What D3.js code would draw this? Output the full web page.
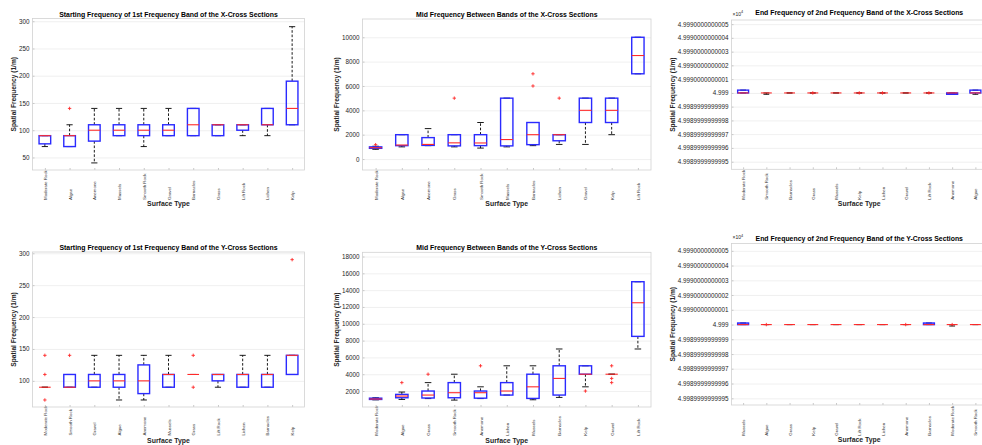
<!DOCTYPE html>
<html><head><meta charset="utf-8">
<script src="https://cdn.jsdelivr.net/npm/d3@7"></script>
<style>
body{margin:0;background:#fff}
svg{display:block}
text{font-family:"Liberation Sans",Arial,Helvetica,sans-serif}
</style>
</head><body><svg id="c" width="982" height="445"></svg>
<script>
// ===== Panel 1: Starting Frequency, X-Cross =====
const p1Title = "Starting Frequency of 1st Frequency Band of the X-Cross Sections";
const p1Categories = ["Moderate Rock","Algae","Anemone","Mussels","Smooth Rock","Gravel","Barnacles","Grass","Lift Rock","Lichen","Kelp"];
const p1Q1     = [75, 70, 80, 90, 90, 90, 90, 90,100,110,110];
const p1Median = [90, 90,100,100,100,100,110,110,110,110,140];
const p1Q3     = [90, 90,110,110,110,110,140,110,110,140,190];
const p1Low    = [70, 70, 40, 90, 70, 90, 90, 90, 90, 90,110];
const p1High   = [90,110,140,140,140,140,140,110,110,140,290];
const p1Outliers = [[],[140],[],[],[],[],[],[],[],[],[]];
const p1YDomain = [27, 305];
const p1YTicks = [50,100,150,200,250,300];
const p1YTickLabels = ["50","100","150","200","250","300"];

// ===== Panel 2: Mid Frequency, X-Cross =====
const p2Title = "Mid Frequency Between Bands of the X-Cross Sections";
const p2Categories = ["Moderate Rock","Algae","Anemone","Grass","Smooth Rock","Mussels","Barnacles","Lichen","Gravel","Kelp","Lift Rock"];
const p2Q1     = [ 880,1100,1120,1080,1100,1080,1180,1500,3000,3000, 7000];
const p2Median = [ 930,1150,1200,1330,1320,1600,2000,2000,4000,4000, 8500];
const p2Q3     = [1000,2000,1760,2000,2000,5000,3000,2000,5000,5000,10000];
const p2Low    = [ 800,1000,1100,1000, 900,1000,1100,1200,1200,2000, 7000];
const p2High   = [1050,2000,2500,2000,3000,5000,3000,2000,5000,5000,10000];
const p2Outliers = [[1180],[],[],[5000],[],[],[6000,7000],[5000],[],[],[]];
const p2YDomain = [-900, 11500];
const p2YTicks = [0,2000,4000,6000,8000,10000];
const p2YTickLabels = ["0","2000","4000","6000","8000","10000"];

// ===== Panel 3: End Frequency, X-Cross (values in units of 10^4) =====
const p3Title = "End Frequency of 2nd Frequency Band of the X-Cross Sections";
const p3Categories = ["Moderate Rock","Smooth Rock","Barnacles","Grass","Mussels","Kelp","Lichen","Gravel","Lift Rock","Anemone","Algae"];
const p3Q1     = [4.999,4.999,4.999,4.999,4.999,4.999,4.999,4.999,4.999,4.99899999999999,4.999];
const p3Median = [4.999,4.999,4.999,4.999,4.999,4.999,4.999,4.999,4.999,4.999,4.999];
const p3Q3     = [4.99900000000002,4.999,4.999,4.999,4.999,4.999,4.999,4.999,4.999,4.999,4.99900000000002];
const p3Low    = [4.999,4.99899999999999,4.999,4.999,4.999,4.999,4.999,4.999,4.999,4.99899999999999,4.99899999999999];
const p3High   = [4.99900000000002,4.999,4.999,4.999,4.999,4.999,4.999,4.999,4.999,4.999,4.99900000000002];
const p3Outliers = [[],[],[],[4.999],[],[4.999],[4.999],[],[4.999],[],[]];
const p3YDomain = [4.999 - 5.55e-13, 4.999 + 5.3e-13];
const p3YTicks = [4.9989999999995,4.9989999999996,4.9989999999997,4.9989999999998,4.9989999999999,4.999,4.9990000000001,4.9990000000002,4.9990000000003,4.9990000000004,4.9990000000005];
const p3YTickLabels = ["4.9989999999995","4.9989999999996","4.9989999999997","4.9989999999998","4.9989999999999","4.999","4.9990000000001","4.9990000000002","4.9990000000003","4.9990000000004","4.9990000000005"];

// ===== Panel 4: Starting Frequency, Y-Cross =====
const p4Title = "Starting Frequency of 1st Frequency Band of the Y-Cross Sections";
const p4Categories = ["Moderate Rock","Smooth Rock","Gravel","Algae","Anemone","Mussels","Grass","Lift Rock","Lichen","Barnacles","Kelp"];
const p4Q1     = [90, 90, 90, 90, 80, 90,110,100, 90, 90,110];
const p4Median = [90, 90,100,100,100,110,110,110,110,110,140];
const p4Q3     = [90,110,110,110,125,110,110,110,110,110,140];
const p4Low    = [90, 90, 90, 70, 70, 90,110, 90, 90, 90,110];
const p4High   = [90,110,140,140,140,140,110,110,140,140,140];
const p4Outliers = [[140,110,70],[140],[],[],[],[],[140,90],[],[],[],[290]];
const p4YDomain = [59, 302];
const p4YTicks = [100,150,200,250,300];
const p4YTickLabels = ["100","150","200","250","300"];

// ===== Panel 5: Mid Frequency, Y-Cross =====
const p5Title = "Mid Frequency Between Bands of the Y-Cross Sections";
const p5Categories = ["Moderate Rock","Algae","Grass","Smooth Rock","Anemone","Lichen","Mussels","Barnacles","Kelp","Gravel","Lift Rock"];
const p5Q1     = [1000,1200,1170,1200,1150,1520,1120,1520,4000,4000, 8500];
const p5Median = [1050,1400,1520,1800,1800,2000,2500,3500,4000,4000,12500];
const p5Q3     = [1150,1600,2000,3000,2000,3000,4000,5000,5000,4000,15000];
const p5Low    = [ 950,1000,1100, 920,1100,1520, 960,1240,2500,4000, 7000];
const p5High   = [1200,1880,3000,4000,2500,5000,5000,7000,5000,4000,15000];
const p5Outliers = [[],[3000],[4000],[],[5000],[],[],[],[2000],[5000,3500,3000],[]];
const p5YDomain = [100, 18500];
const p5YTicks = [2000,4000,6000,8000,10000,12000,14000,16000,18000];
const p5YTickLabels = ["2000","4000","6000","8000","10000","12000","14000","16000","18000"];

// ===== Panel 6: End Frequency, Y-Cross (values in units of 10^4) =====
const p6Title = "End Frequency of 2nd Frequency Band of the Y-Cross Sections";
const p6Categories = ["Mussels","Algae","Grass","Kelp","Gravel","Lift Rock","Lichen","Anemone","Barnacles","Moderate Rock","Smooth Rock"];
const p6Q1     = [4.999,4.999,4.999,4.999,4.999,4.999,4.999,4.999,4.999,4.999,4.999];
const p6Median = [4.999,4.999,4.999,4.999,4.999,4.999,4.999,4.999,4.999,4.999,4.999];
const p6Q3     = [4.99900000000001,4.999,4.999,4.999,4.999,4.999,4.999,4.999,4.99900000000001,4.999,4.999];
const p6Low    = [4.999,4.999,4.999,4.999,4.999,4.999,4.999,4.999,4.999,4.99899999999999,4.999];
const p6High   = [4.99900000000001,4.999,4.999,4.999,4.999,4.999,4.999,4.999,4.99900000000001,4.999,4.999];
const p6Outliers = [[],[4.999],[],[],[],[],[],[4.999],[],[4.999],[]];
const p6YDomain = [4.999 - 5.45e-13, 4.999 + 5.5e-13];
const p6YTicks = p3YTicks;
const p6YTickLabels = p3YTickLabels;

const xAxisLabel = "Surface Type";
const yAxisLabel = "Spatial Frequency (1/m)";
const exponentLabel = "4";

// ===== Layout (positions only) =====
const layout = [
  {x0:32.5, x1:304.5, y0:18.5, y1:170, ylabX:14, titleY:16.5, labBottom:200, xlabY:205.5, exp:false},
  {x0:362.5,x1:651,   y0:19,   y1:170, ylabX:337, titleY:16.5, labBottom:200, xlabY:205.5, exp:false},
  {x0:731.5,x1:987,   y0:20,   y1:169.3, ylabX:673, titleY:14.8, labBottom:199.7, xlabY:205.5, exp:true},
  {x0:32.5, x1:304.5, y0:252,  y1:407, ylabX:14, titleY:250, labBottom:435.5, xlabY:442.5, exp:false},
  {x0:362.5,x1:651,   y0:252.3,y1:407, ylabX:337, titleY:249.5, labBottom:435.7, xlabY:442.5, exp:false},
  {x0:731.5,x1:987,   y0:243.5,y1:405, ylabX:673, titleY:241, labBottom:435.7, xlabY:442, exp:true}
];

const panels = [
  {title:p1Title, cats:p1Categories, q1:p1Q1, med:p1Median, q3:p1Q3, lo:p1Low, hi:p1High, out:p1Outliers, dom:p1YDomain, ticks:p1YTicks, labels:p1YTickLabels},
  {title:p2Title, cats:p2Categories, q1:p2Q1, med:p2Median, q3:p2Q3, lo:p2Low, hi:p2High, out:p2Outliers, dom:p2YDomain, ticks:p2YTicks, labels:p2YTickLabels},
  {title:p3Title, cats:p3Categories, q1:p3Q1, med:p3Median, q3:p3Q3, lo:p3Low, hi:p3High, out:p3Outliers, dom:p3YDomain, ticks:p3YTicks, labels:p3YTickLabels},
  {title:p4Title, cats:p4Categories, q1:p4Q1, med:p4Median, q3:p4Q3, lo:p4Low, hi:p4High, out:p4Outliers, dom:p4YDomain, ticks:p4YTicks, labels:p4YTickLabels},
  {title:p5Title, cats:p5Categories, q1:p5Q1, med:p5Median, q3:p5Q3, lo:p5Low, hi:p5High, out:p5Outliers, dom:p5YDomain, ticks:p5YTicks, labels:p5YTickLabels},
  {title:p6Title, cats:p6Categories, q1:p6Q1, med:p6Median, q3:p6Q3, lo:p6Low, hi:p6High, out:p6Outliers, dom:p6YDomain, ticks:p6YTicks, labels:p6YTickLabels}
];

const svg = d3.select("#c");
svg.append("rect").attr("width",982).attr("height",445).attr("fill","#fff");

panels.forEach((p, pi) => {
  const L = layout[pi];
  const g = svg.append("g");
  const x = d3.scalePoint().domain(p.cats).range([L.x0, L.x1]).padding(0.5);
  const y = d3.scaleLinear().domain(p.dom).range([L.y1, L.y0]);
  const step = x.step();
  const w = L.x1 - L.x0;

  g.append("rect").attr("x",L.x0).attr("y",L.y0).attr("width",w).attr("height",L.y1-L.y0).attr("fill","#fff");

  const grid = g.append("g").attr("transform",`translate(${L.x0},0)`)
    .call(d3.axisLeft(y).tickValues(p.ticks).tickSize(-w).tickFormat(""));
  grid.select(".domain").remove();
  grid.selectAll("line").attr("stroke","#ececec").attr("stroke-width",0.8);

  const ya = g.append("g").attr("transform",`translate(${L.x0},0)`)
    .call(d3.axisLeft(y).tickValues(p.ticks).tickSize(-2).tickPadding(3).tickFormat((d,i)=>p.labels[i]));
  ya.select(".domain").remove();
  ya.selectAll("line").attr("stroke","#c8c8c8");
  ya.selectAll("text").attr("font-size",6.3).attr("fill","#262626").attr("font-family","Liberation Sans, Arial, sans-serif");

  const xa = g.append("g").attr("transform",`translate(0,${L.y1})`)
    .call(d3.axisBottom(x).tickSize(-2).tickFormat(d=>d));
  xa.select(".domain").remove();
  xa.selectAll("line").attr("stroke","#c8c8c8");
  xa.selectAll("text")
    .attr("font-size",4.4).attr("fill","#333").attr("font-family","Liberation Sans, Arial, sans-serif")
    .attr("text-anchor","start")
    .attr("x",-(L.labBottom - L.y1)).attr("y",0).attr("dy","0.35em")
    .attr("transform","rotate(-90)");

  g.append("rect").attr("x",L.x0).attr("y",L.y0).attr("width",w).attr("height",L.y1-L.y0)
    .attr("fill","none").attr("stroke","#d2d2d2").attr("stroke-width",0.8);

  const bw = step * 0.47, cw = step * 0.25;
  const bx = g.append("g");
  p.cats.forEach((c, i) => {
    const cx = x(c);
    if (p.hi[i] > p.q3[i]) bx.append("line").attr("x1",cx).attr("x2",cx).attr("y1",y(p.q3[i])).attr("y2",y(p.hi[i]))
      .attr("stroke","#000").attr("stroke-width",0.9).attr("stroke-dasharray","2.6,1.8");
    if (p.lo[i] < p.q1[i]) bx.append("line").attr("x1",cx).attr("x2",cx).attr("y1",y(p.q1[i])).attr("y2",y(p.lo[i]))
      .attr("stroke","#000").attr("stroke-width",0.9).attr("stroke-dasharray","2.6,1.8");
    [p.hi[i], p.lo[i]].forEach(v => {
      bx.append("line").attr("x1",cx-cw/2).attr("x2",cx+cw/2).attr("y1",y(v)).attr("y2",y(v))
        .attr("stroke","#000").attr("stroke-width",0.9);
    });
    bx.append("rect").attr("x",cx-bw/2).attr("width",bw)
      .attr("y",y(p.q3[i])).attr("height",Math.max(0,y(p.q1[i])-y(p.q3[i])))
      .attr("fill","none").attr("stroke","#2a2aff").attr("stroke-width",1.4);
    bx.append("line").attr("x1",cx-bw/2).attr("x2",cx+bw/2).attr("y1",y(p.med[i])).attr("y2",y(p.med[i]))
      .attr("stroke","#ff2a2a").attr("stroke-width",1.1);
    p.out[i].forEach(v => {
      bx.append("path").attr("d","M-1.7,0H1.7M0,-1.7V1.7")
        .attr("transform",`translate(${cx},${y(v)})`)
        .attr("stroke","#ff2a2a").attr("stroke-width",0.9).attr("fill","none");
    });
  });

  g.append("text").attr("x",(L.x0+L.x1)/2).attr("y",L.titleY).attr("text-anchor","middle")
    .attr("font-size",6.9).attr("font-weight","bold").attr("fill","#000").text(p.title);
  g.append("text").attr("x",(L.x0+L.x1)/2).attr("y",L.xlabY).attr("text-anchor","middle")
    .attr("font-size",6.9).attr("font-weight","bold").attr("fill","#262626").text(xAxisLabel);
  g.append("text").attr("transform",`translate(${L.ylabX+2.3},${(L.y0+L.y1)/2}) rotate(-90)`).attr("text-anchor","middle")
    .attr("font-size",6.6).attr("font-weight","bold").attr("fill","#262626").text(yAxisLabel);
  if (L.exp) {
    const t = g.append("text").attr("x",L.x0+1).attr("y",L.y0-4.5).attr("font-size",5).attr("fill","#262626");
    t.append("tspan").text("\u00d710");
    t.append("tspan").attr("dy",-2.5).attr("font-size",3.8).text(exponentLabel);
  }
});
</script>
</body></html>
